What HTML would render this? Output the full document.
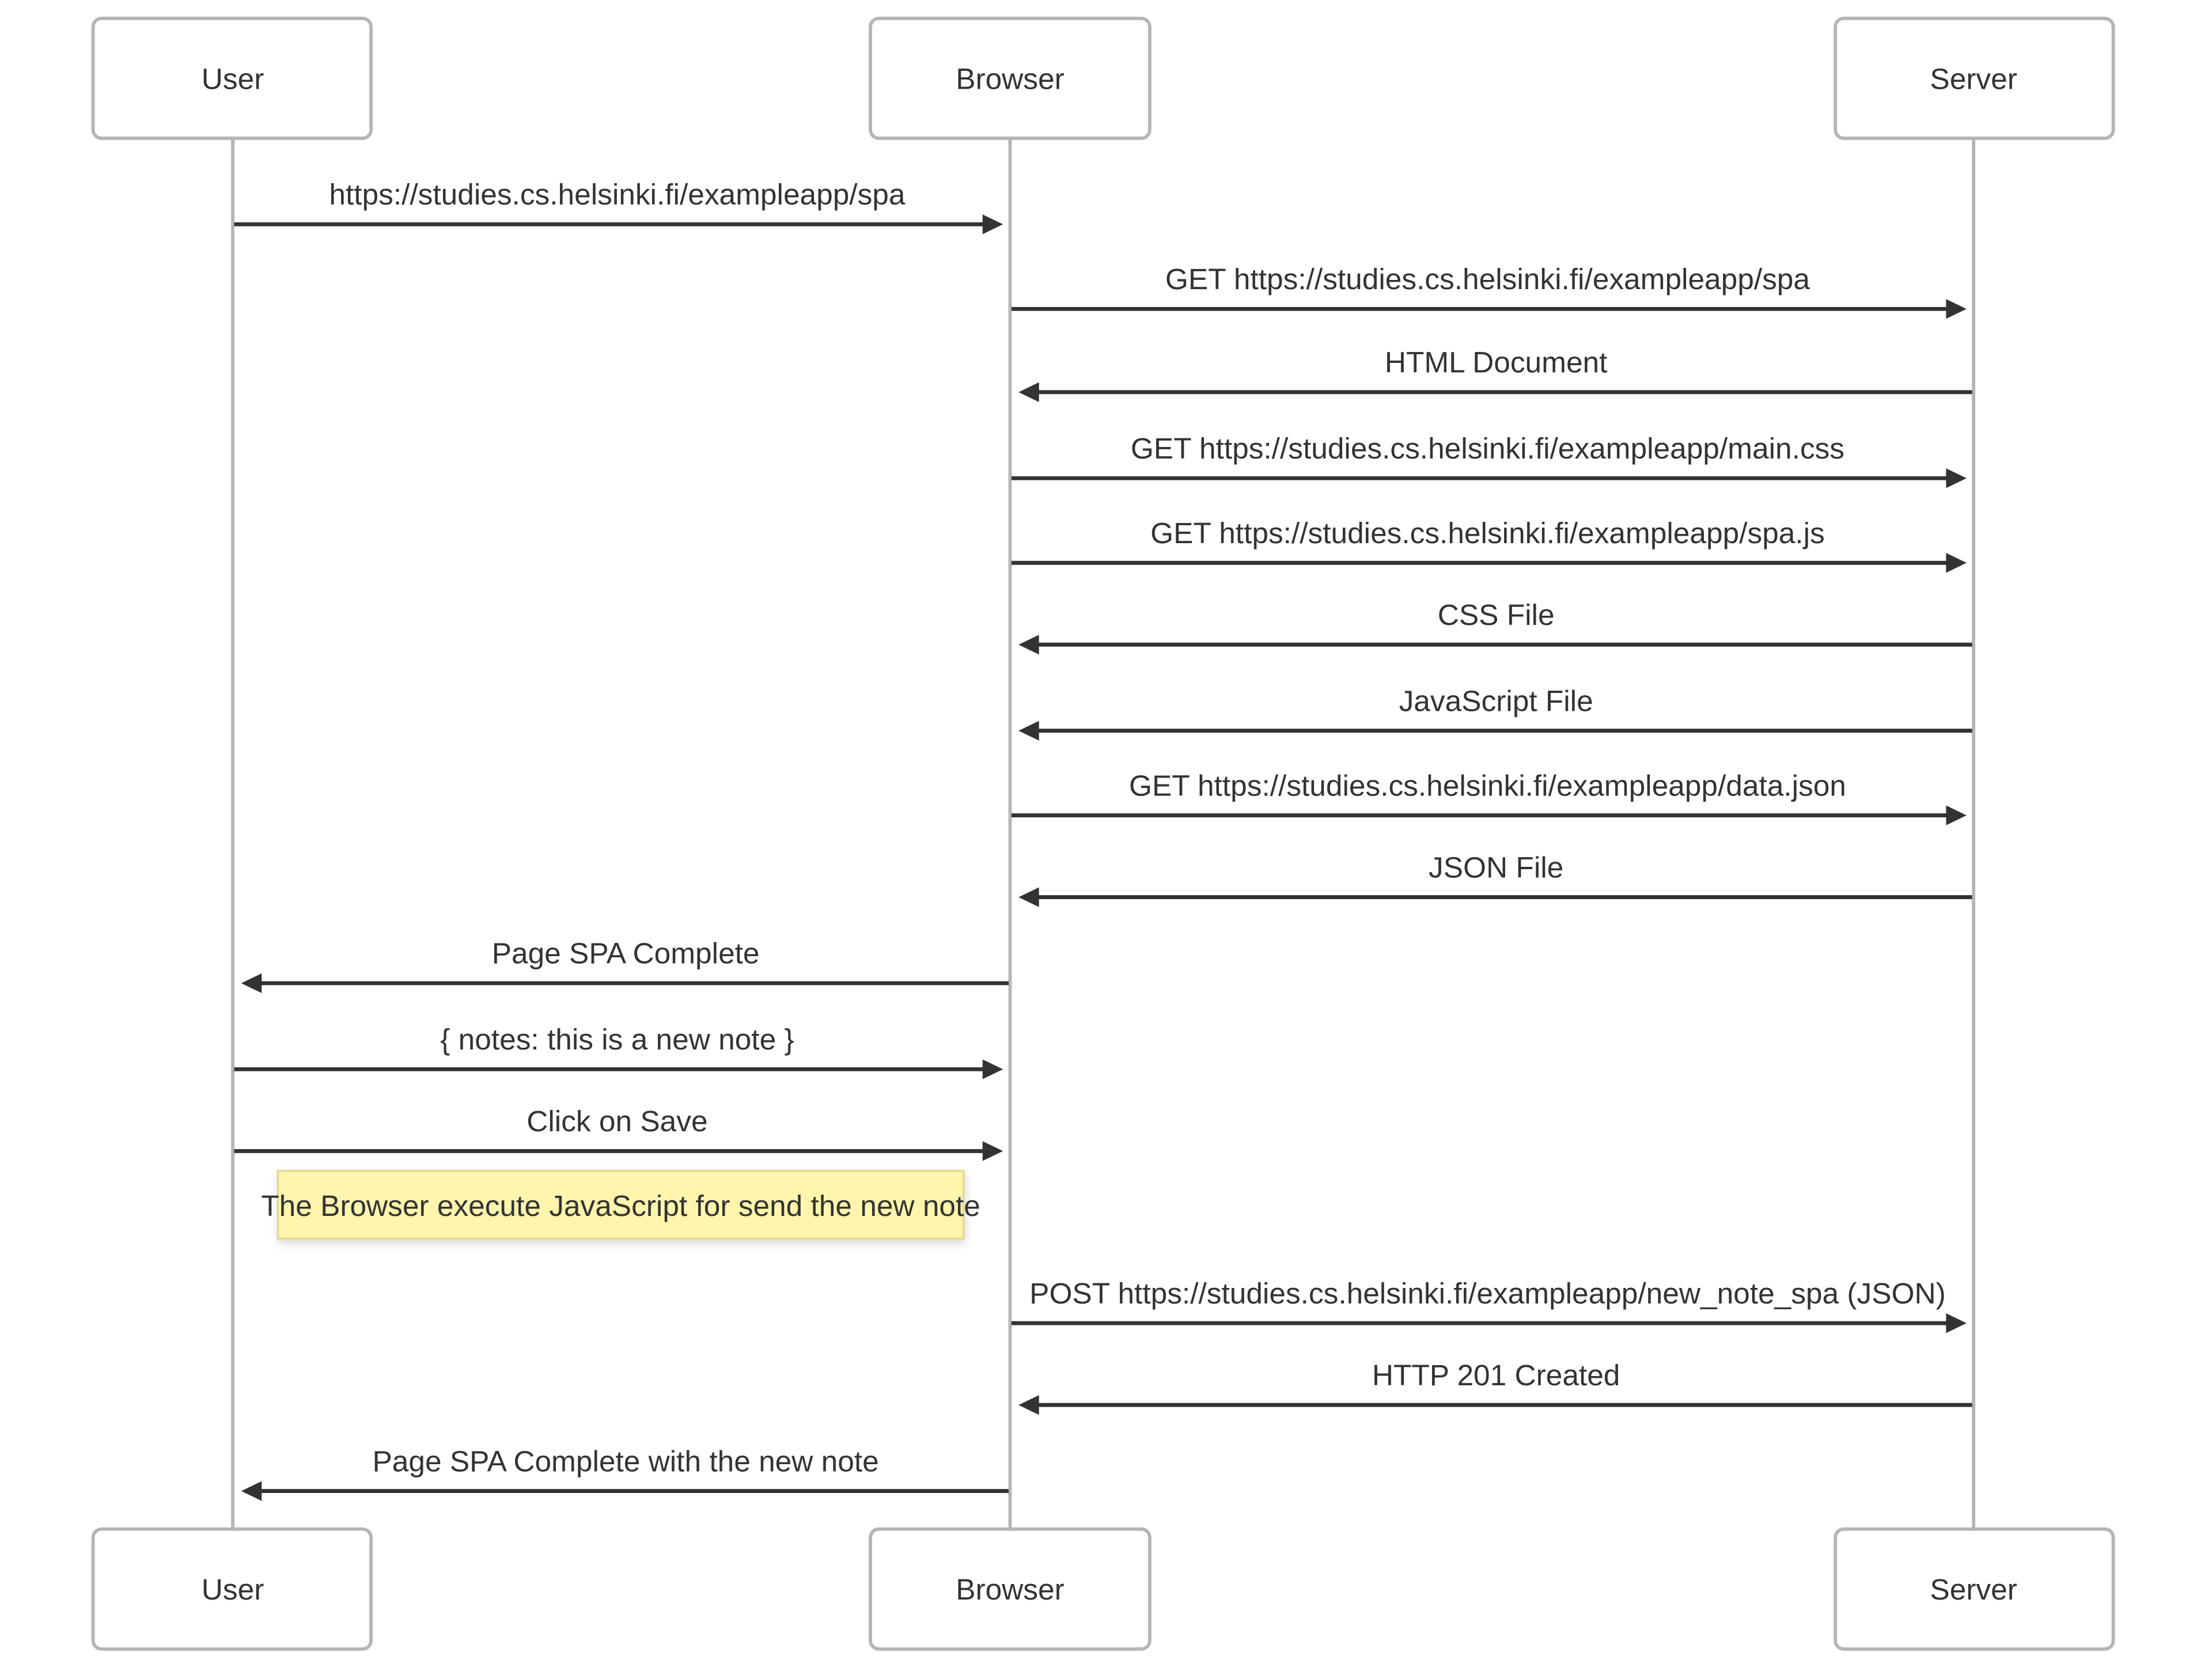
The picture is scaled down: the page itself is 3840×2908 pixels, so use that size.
<!DOCTYPE html>
<html><head><meta charset="utf-8"><style>
html,body{margin:0;padding:0;background:#fff;}
svg{display:block;}
text{font-family:"Liberation Sans",Arial,sans-serif;fill:#333;}
</style></head><body>
<svg width="3840" height="2908" viewBox="0 0 1568 1187.4" xmlns="http://www.w3.org/2000/svg">
<defs>
<filter id="sh" x="-10%" y="-30%" width="120%" height="170%"><feDropShadow dx="1" dy="3" stdDeviation="3" flood-color="#000" flood-opacity="0.15"/></filter>
</defs>
<g stroke="#b5b5b5" stroke-width="2.4">
<line x1="165" y1="98" x2="165" y2="1084"/>
<line x1="716" y1="98" x2="716" y2="1084"/>
<line x1="1399" y1="98" x2="1399" y2="1084"/>
</g>
<g fill="#fff" stroke="#b5b5b5" stroke-width="2.4">
<rect x="66" y="13" width="197" height="85" rx="6"/>
<rect x="617" y="13" width="198" height="85" rx="6"/>
<rect x="1301" y="13" width="197" height="85" rx="6"/>
<rect x="66" y="1084" width="197" height="85" rx="6"/>
<rect x="617" y="1084" width="198" height="85" rx="6"/>
<rect x="1301" y="1084" width="197" height="85" rx="6"/>
</g>
<g font-size="21" text-anchor="middle">
<text x="165" y="63">User</text>
<text x="716" y="63">Browser</text>
<text x="1399" y="63">Server</text>
<text x="165" y="1134">User</text>
<text x="716" y="1134">Browser</text>
<text x="1399" y="1134">Server</text>
</g>
<g id="msgs" stroke="#333" stroke-width="2.8" fill="#333"></g>
<rect x="197" y="830" width="486" height="48" fill="#fff5ad" stroke="#e3d992" stroke-width="1.5" filter="url(#sh)"/>
<text x="440" y="862" font-size="21" text-anchor="middle">The Browser execute JavaScript for send the new note</text>
<g font-size="21" text-anchor="middle" id="labels"></g>
</svg>
<script>
var M=[[159,'R',0,"https://studies.cs.helsinki.fi/exampleapp/spa"],
[219,'R',1,"GET https://studies.cs.helsinki.fi/exampleapp/spa"],
[278,'L',1,"HTML Document"],
[339,'R',1,"GET https://studies.cs.helsinki.fi/exampleapp/main.css"],
[399,'R',1,"GET https://studies.cs.helsinki.fi/exampleapp/spa.js"],
[457,'L',1,"CSS File"],
[518,'L',1,"JavaScript File"],
[578,'R',1,"GET https://studies.cs.helsinki.fi/exampleapp/data.json"],
[636,'L',1,"JSON File"],
[697,'L',0,"Page SPA Complete"],
[758,'R',0,"{ notes: this is a new note }"],
[816,'R',0,"Click on Save"],
[938,'R',1,"POST https://studies.cs.helsinki.fi/exampleapp/new_note_spa (JSON)"],
[996,'L',1,"HTTP 201 Created"],
[1057,'L',0,"Page SPA Complete with the new note"]];
var ns="http://www.w3.org/2000/svg",g=document.getElementById('msgs'),lb=document.getElementById('labels');
var X=[[165,716],[716,1399]];
M.forEach(function(m){var y=m[0],a=X[m[2]][0],b=X[m[2]][1],x1,x2,tip,base;
if(m[1]=='R'){x1=a+1;tip=b-5;base=tip-14.5;x2=base+1;}else{x1=b-1;tip=a+6;base=tip+14.5;x2=base-1;}
var l=document.createElementNS(ns,'line');l.setAttribute('x1',x1);l.setAttribute('x2',x2);l.setAttribute('y1',y);l.setAttribute('y2',y);g.appendChild(l);
var p=document.createElementNS(ns,'polygon');p.setAttribute('points',tip+','+y+' '+base+','+(y-7)+' '+base+','+(y+7));p.setAttribute('stroke','none');g.appendChild(p);
var t=document.createElementNS(ns,'text');t.setAttribute('x',(a+b)/2+(m[1]=='R'?-3:3));t.setAttribute('y',y-14);t.textContent=m[3];lb.appendChild(t);});
</script>
</body></html>
